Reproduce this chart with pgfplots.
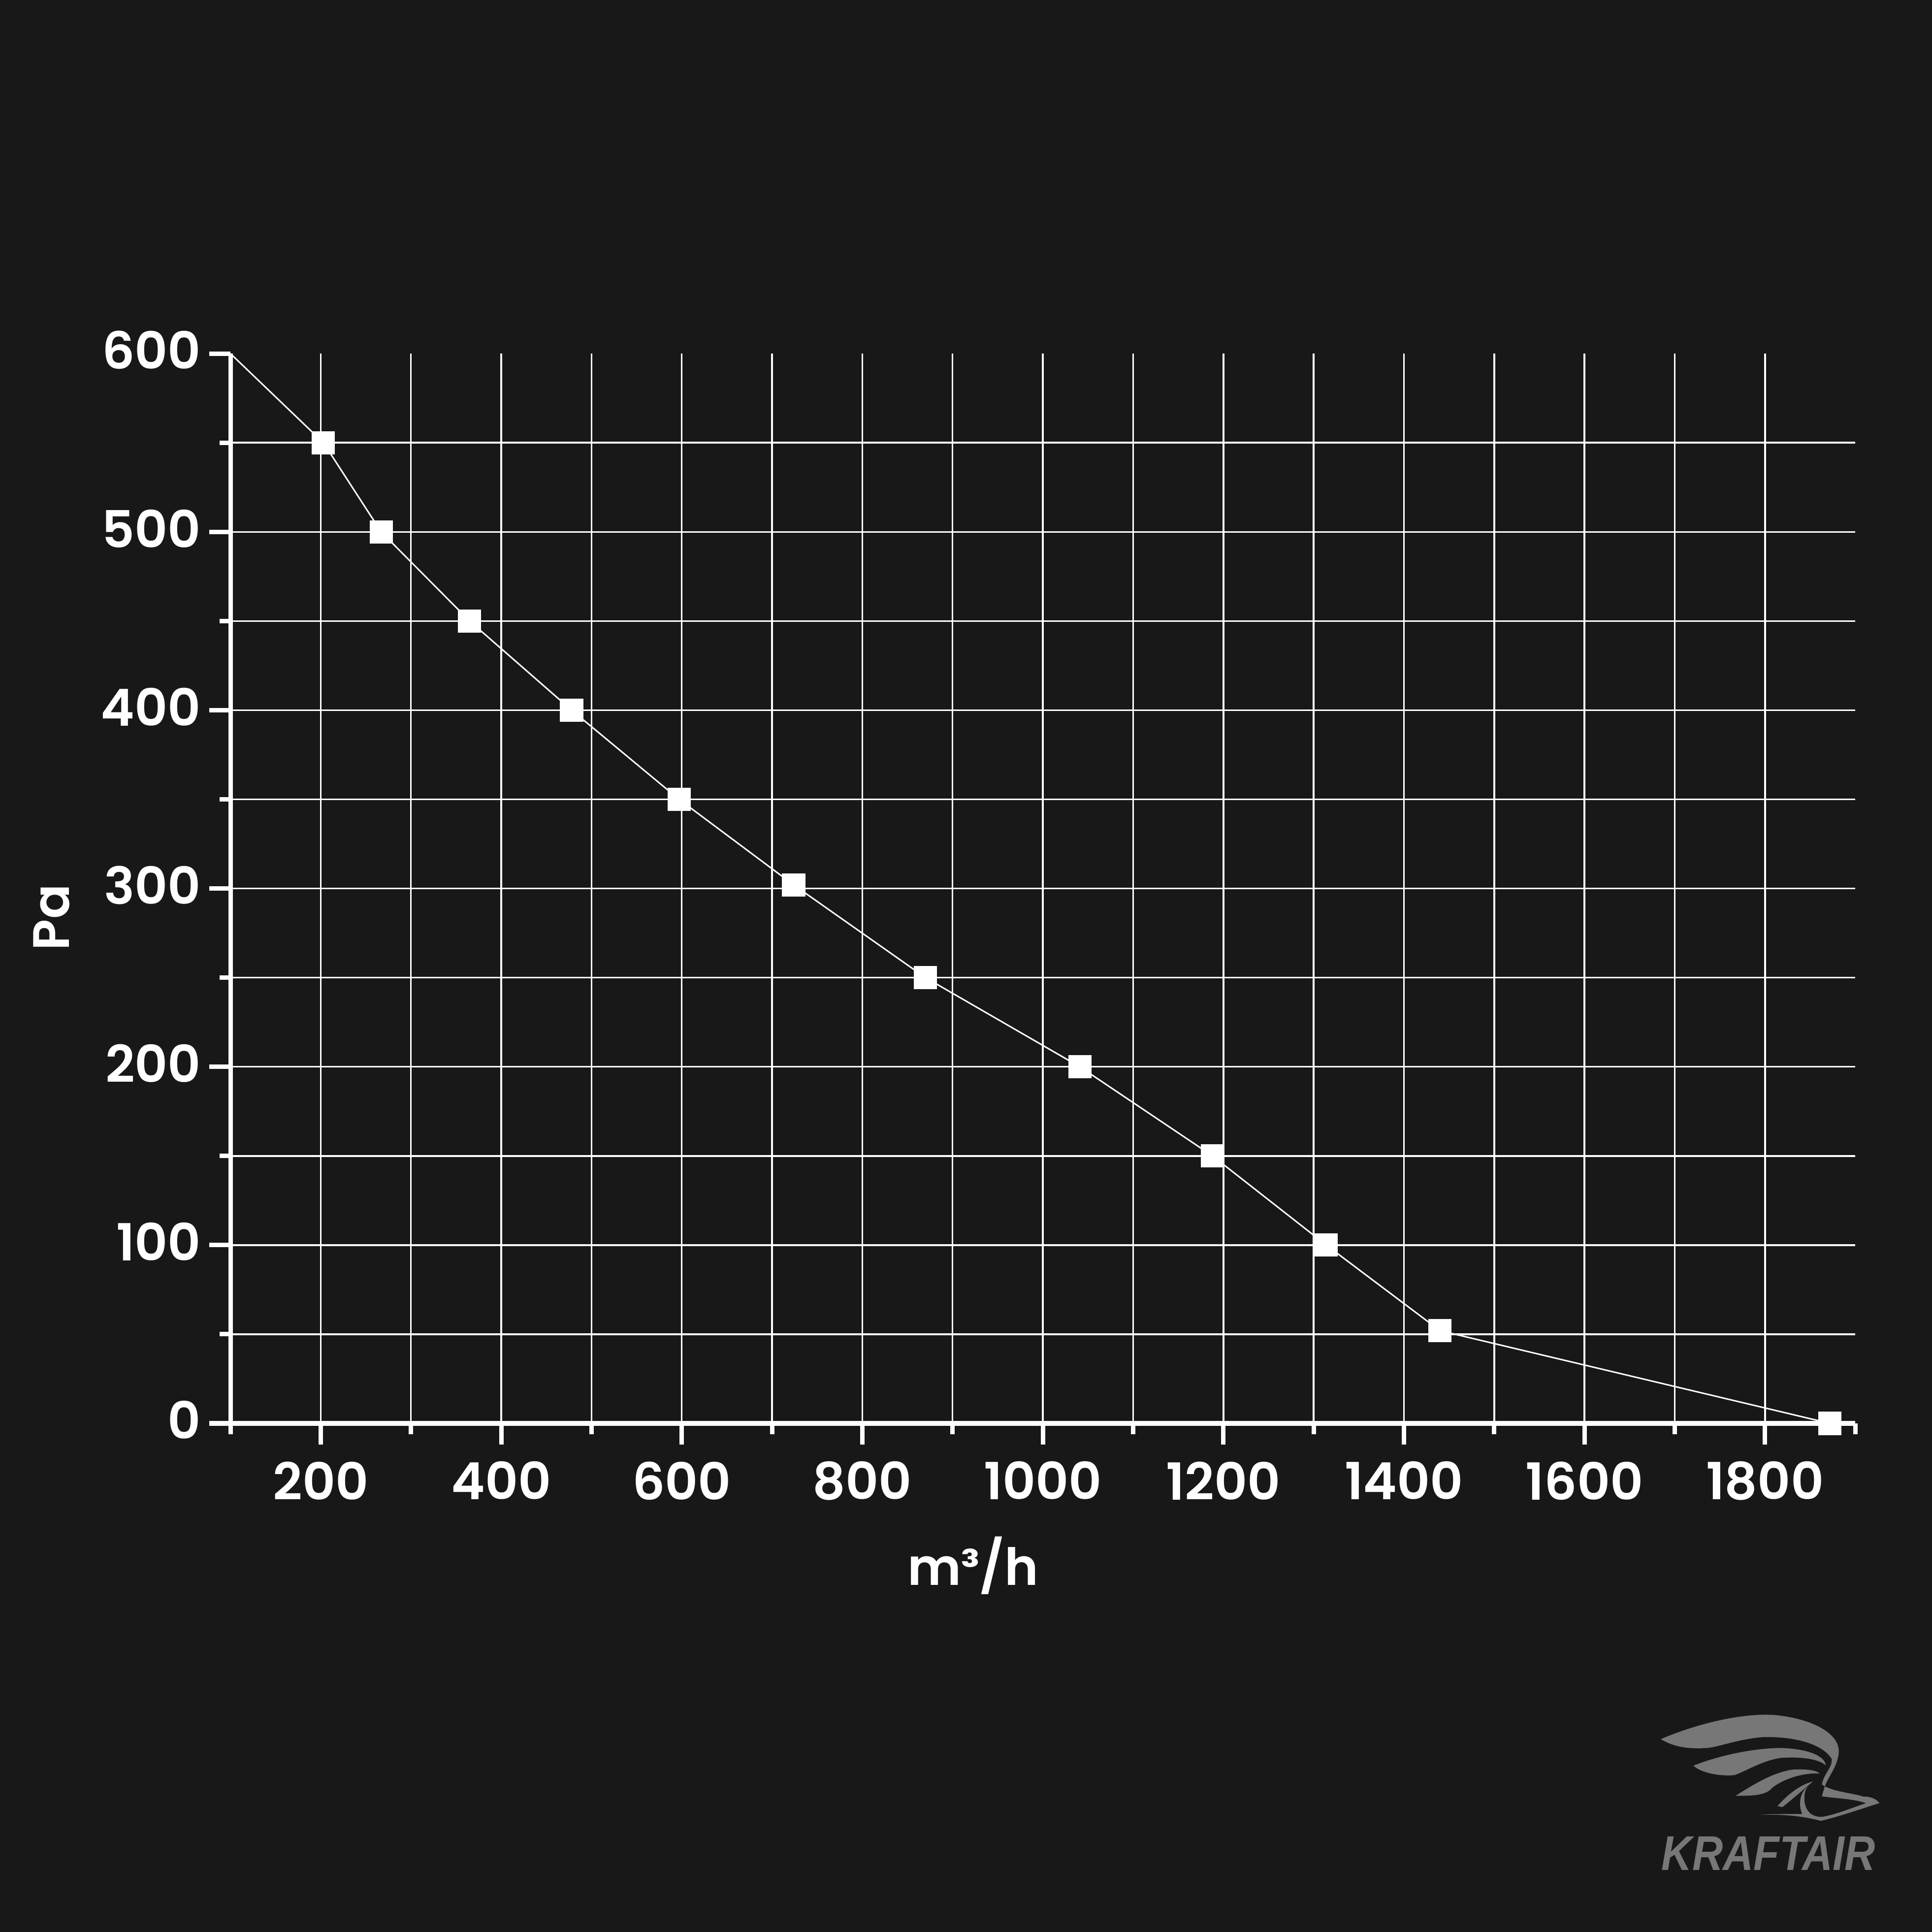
\documentclass[border=0pt]{standalone}
\usepackage{fontspec}
\setmainfont{Poppins}[BoldFont={Poppins SemiBold}]
\newfontfamily\logofont{Liberation Sans}
\usepackage{pgfplots}
\pgfplotsset{compat=1.18}
\definecolor{bg}{RGB}{24,24,24}
\definecolor{logo}{RGB}{119,119,119}
\newcommand\lblfont{\fontsize{10.6}{12}\selectfont\bfseries}
\begin{document}
\begin{tikzpicture}
\fill[bg] (0,0) rectangle (400pt,400pt);
\begin{axis}[
  at={(47.71pt,105.30pt)}, anchor=south west,
  scale only axis, width=336.4pt, height=221.5pt,
  xmin=100, xmax=1900, ymin=0, ymax=600,
  clip=false,
  axis lines=left,
  axis line style={white, line width=0.92pt, -},
  every tick/.style={white, line width=0.92pt},
  tick align=outside,
  major tick length=4.38pt, minor tick length=2.24pt,
  xtick={200,400,...,1800},
  minor xtick={300,500,...,1700},
  extra x ticks={100,1900},
  extra x tick labels={},
  extra x tick style={xmajorgrids=false, major tick length=2.24pt},
  ytick={0,100,...,500},
  minor ytick={50,150,...,550},
  extra y ticks={600},
  extra y tick style={ymajorgrids=false},
  grid=both,
  major grid style={white, line width=0.36pt},
  minor grid style={white, line width=0.36pt},
  ticklabel style={white, font=\lblfont},
  yticklabel style={xshift=1.8pt, yshift=0.7pt},
  /pgf/number format/1000 sep={},
  /pgf/number format/assume math mode=true,
  xlabel={m³/h},
  ylabel={Pa},
  xlabel style={at={(axis description cs:0.457,-0.151)}, anchor=base, white, font=\lblfont},
  ylabel style={at={(axis description cs:-0.110,0.473)}, anchor=center, white, font=\lblfont},
]
% curve
\addplot[white, line width=0.3pt, no markers] coordinates {
  (100,600) (203,550) (267,500) (365,450) (478,400) (597,350)
  (724,302) (870,250) (1041,200) (1188,150) (1314,100) (1440,52) (1872,0)
};
% measured points
\addplot[only marks, mark=square*, mark size=2.35pt,
  mark options={fill=white, draw=white, line width=0pt}] coordinates {
  (203,550) (267,500) (365,450) (478,400) (597,350)
  (724,302) (870,250) (1041,200) (1188,150) (1314,100) (1440,52) (1872,0)
};
\end{axis}
% logo
\begin{scope}[shift={(0pt,400pt)}, x=0.10194pt, y=-0.10194pt]
  \fill[logo] (3373,3532) .. controls (3460,3495) and (3560,3475) .. (3620,3485)
    .. controls (3690,3495) and (3740,3525) .. (3734,3563)
    .. controls (3730,3590) and (3712,3610) .. (3706,3628) -- (3700,3624)
    .. controls (3705,3600) and (3722,3590) .. (3720,3572)
    .. controls (3700,3540) and (3640,3526) .. (3579,3528)
    .. controls (3530,3532) and (3490,3548) .. (3467,3550)
    .. controls (3420,3553) and (3395,3545) .. cycle;
  \fill[logo] (3439,3586) .. controls (3500,3562) and (3570,3550) .. (3618,3550)
    .. controls (3670,3552) and (3705,3565) .. (3708,3585)
    .. controls (3690,3570) and (3650,3568) .. (3618,3570)
    .. controls (3580,3575) and (3550,3595) .. (3523,3605)
    .. controls (3490,3608) and (3455,3600) .. cycle;
  \fill[logo] (3525,3647) .. controls (3560,3625) and (3600,3600) .. (3640,3594)
    .. controls (3670,3592) and (3690,3596) .. (3696,3602)
    .. controls (3670,3600) and (3630,3608) .. (3600,3630)
    .. controls (3590,3642) and (3575,3648) .. cycle;
  \fill[logo] (3610,3668) .. controls (3630,3645) and (3655,3625) .. (3682,3618)
    .. controls (3665,3632) and (3645,3650) .. (3620,3670) -- cycle;
  \fill[logo] (3571,3686) .. controls (3620,3684) and (3660,3688) .. (3698,3698)
    .. controls (3740,3688) and (3790,3670) .. (3817,3662)
    .. controls (3810,3652) and (3795,3648) .. (3785,3649)
    .. controls (3765,3642) and (3730,3640) .. (3706,3628)
    -- (3700,3648)
    .. controls (3720,3652) and (3760,3652) .. (3790,3662)
    .. controls (3760,3672) and (3730,3685) .. (3700,3690)
    .. controls (3680,3690) and (3668,3680) .. (3665,3660)
    .. controls (3663,3640) and (3668,3632) .. (3672,3628)
    .. controls (3655,3640) and (3652,3665) .. (3660,3684)
    .. controls (3630,3684) and (3600,3684) .. cycle;
\end{scope}
\node[logo, anchor=base west, inner sep=0pt, xscale=0.87,
  font=\logofont\bfseries\itshape\fontsize{10.1}{12}\selectfont] at (343.85pt,12.84pt) {KRAFTAIR};
\pgfresetboundingbox
\useasboundingbox (0,0) rectangle (400pt,400pt);
\end{tikzpicture}
\end{document}
